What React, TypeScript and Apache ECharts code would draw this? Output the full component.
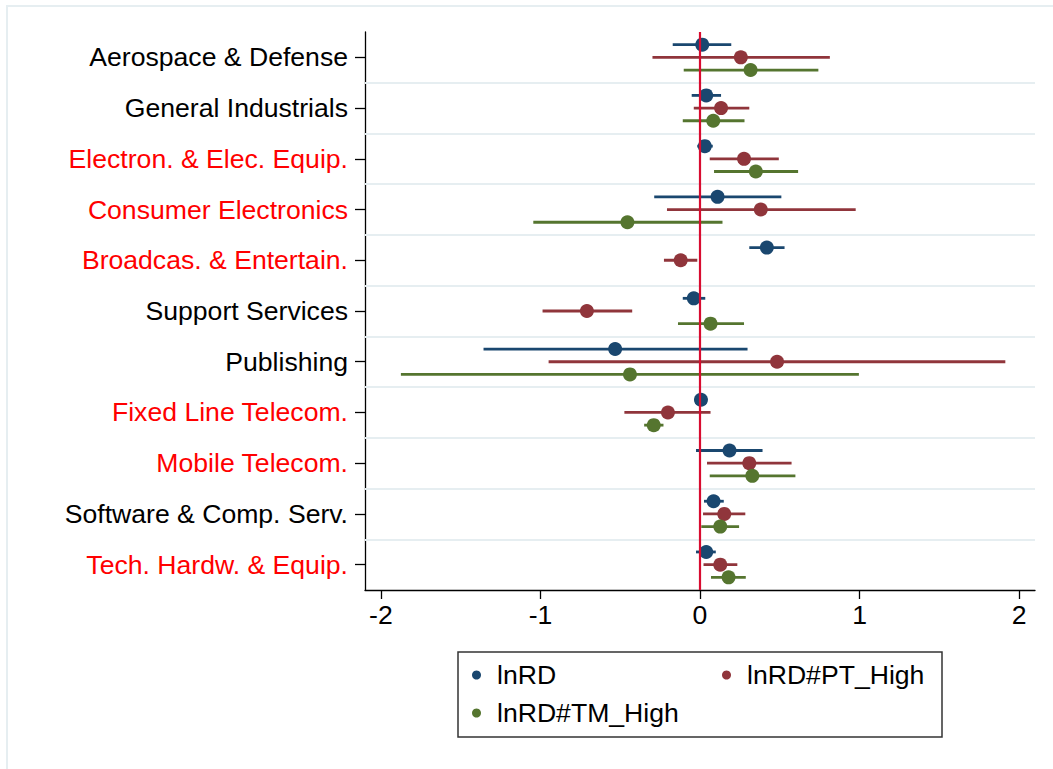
import React, { useEffect, useRef } from "react";
import * as echarts from "echarts";

const categories = [
  "Aerospace & Defense",
  "General Industrials",
  "Electron. & Elec. Equip.",
  "Consumer Electronics",
  "Broadcas. & Entertain.",
  "Support Services",
  "Publishing",
  "Fixed Line Telecom.",
  "Mobile Telecom.",
  "Software & Comp. Serv.",
  "Tech. Hardw. & Equip.",
];
const redLabel = [false, false, true, true, true, false, false, true, true, false, true];

const seriesNames = ["lnRD", "lnRD#PT_High", "lnRD#TM_High"];

const lnRDEst = [0.014, 0.039, 0.03, 0.11, 0.419, -0.039, -0.532, 0.006, 0.185, 0.085, 0.039];
const lnRDLo = [-0.171, -0.052, -0.017, -0.287, 0.309, -0.108, -1.357, -0.01, -0.025, 0.025, -0.025];
const lnRDHi = [0.196, 0.132, 0.08, 0.51, 0.53, 0.033, 0.298, 0.022, 0.392, 0.149, 0.099];

const ptEst = [0.256, 0.132, 0.276, 0.381, -0.121, -0.709, 0.483, -0.201, 0.309, 0.152, 0.127];
const ptLo = [-0.298, -0.039, 0.061, -0.207, -0.226, -0.987, -0.949, -0.474, 0.044, 0.019, 0.022];
const ptHi = [0.814, 0.309, 0.494, 0.976, -0.017, -0.425, 1.914, 0.066, 0.574, 0.284, 0.234];

const tmEst = [0.317, 0.083, 0.35, -0.455, null, 0.066, -0.439, -0.29, 0.328, 0.127, 0.179];
const tmLo = [-0.102, -0.108, 0.088, -1.045, null, -0.138, -1.875, -0.35, 0.061, 0.008, 0.069];
const tmHi = [0.742, 0.279, 0.615, 0.141, null, 0.276, 0.996, -0.229, 0.598, 0.245, 0.287];

const xTicks = [-2, -1, 0, 1, 2];

const COLORS = ["#1a476f", "#90353b", "#55752f"];
const OFFSETS = [-0.25, 0, 0.25];
const FONT = "'Liberation Sans', Arial, sans-serif";
const FS = 26.6;

export default function App() {
  const ref = useRef<HTMLDivElement>(null);

  useEffect(() => {
    document.body.style.margin = "0";
    const chart = echarts.init(ref.current!, null, { renderer: "svg" });

    const groups = [
      { est: lnRDEst, lo: lnRDLo, hi: lnRDHi },
      { est: ptEst, lo: ptLo, hi: ptHi },
      { est: tmEst, lo: tmLo, hi: tmHi },
    ];

    const ciSeries: any[] = [];
    const dotSeries: any[] = [];
    groups.forEach((g, gi) => {
      const ci: any[] = [];
      const pts: any[] = [];
      g.est.forEach((e, i) => {
        if (e === null || e === undefined) return;
        const y = i + OFFSETS[gi];
        ci.push([g.lo[i], g.hi[i], y]);
        pts.push([e, y]);
      });
      ciSeries.push({
        type: "custom",
        name: seriesNames[gi] + " CI",
        xAxisIndex: 0,
        yAxisIndex: 1,
        z: 2,
        silent: true,
        encode: { x: [0, 1], y: 2 },
        data: ci,
        renderItem: (params: any, api: any) => {
          const p1 = api.coord([api.value(0), api.value(2)]);
          const p2 = api.coord([api.value(1), api.value(2)]);
          return {
            type: "line",
            shape: { x1: p1[0], y1: p1[1], x2: p2[0], y2: p2[1] },
            style: { stroke: COLORS[gi], lineWidth: 2.8 },
          };
        },
      });
      dotSeries.push({
        type: "scatter",
        name: seriesNames[gi],
        xAxisIndex: 0,
        yAxisIndex: 1,
        z: 4,
        symbol: "circle",
        symbolSize: 14,
        itemStyle: { color: COLORS[gi], opacity: 1 },
        data: pts,
      });
    });

    const gridLines = [];
    for (let i = 0; i < categories.length - 1; i++) gridLines.push({ yAxis: i + 0.5 });

    const legendBase = {
      padding: 0,
      icon: "circle",
      itemWidth: 31,
      itemHeight: 9,
      textStyle: { fontSize: FS, color: "#000", fontFamily: FONT, lineHeight: 30 },
      selectedMode: false,
    };

    const option: any = {
      animation: false,
      backgroundColor: "#ffffff",
      textStyle: { fontFamily: FONT },
      grid: { left: 365, right: 18, top: 32, bottom: 179, containLabel: false },
      xAxis: {
        type: "value",
        min: -2.1,
        max: 2.1,
        axisLine: { show: true, onZero: false, lineStyle: { color: "#000", width: 1.3 } },
        axisTick: { show: true, length: 9, customValues: xTicks, lineStyle: { color: "#000", width: 1.3 } },
        axisLabel: {
          customValues: xTicks,
          fontSize: FS,
          color: "#000",
          margin: 11,
          fontFamily: FONT,
        },
        splitLine: { show: false },
      },
      yAxis: [
        {
          type: "category",
          data: categories,
          inverse: true,
          boundaryGap: true,
          axisLine: { show: true, onZero: false, lineStyle: { color: "#000", width: 1.3 } },
          axisTick: { show: true, alignWithLabel: true, length: 10, lineStyle: { color: "#000", width: 1.3 } },
          axisLabel: {
            fontSize: FS,
            margin: 17,
            fontFamily: FONT,
            color: (value: any, index: number) => (redLabel[index] ? "#ff0000" : "#000000"),
          },
          splitLine: { show: false },
        },
        {
          type: "value",
          min: -0.5,
          max: categories.length - 0.5,
          inverse: true,
          show: false,
          position: "left",
          axisLine: { onZero: false },
          splitLine: { show: false },
        },
      ],
      legend: [
        { ...legendBase, data: [seriesNames[0]], left: 472, top: 660 },
        { ...legendBase, data: [seriesNames[1]], left: 722, top: 660 },
        { ...legendBase, data: [seriesNames[2]], left: 472, top: 698 },
      ],
      graphic: [
        {
          type: "rect",
          z: -10,
          silent: true,
          shape: { x: 7, y: 6, width: 1200, height: 1000 },
          style: { fill: "none", stroke: "#e6eef1", lineWidth: 2 },
        },
        {
          type: "rect",
          z: -5,
          silent: true,
          shape: { x: 458, y: 652, width: 484, height: 85 },
          style: { fill: "#ffffff", stroke: "#333333", lineWidth: 1.5 },
        },
      ],
      series: [
        {
          type: "scatter",
          name: "gridlines",
          xAxisIndex: 0,
          yAxisIndex: 1,
          z: 0,
          silent: true,
          data: [],
          markLine: {
            silent: true,
            symbol: "none",
            label: { show: false },
            lineStyle: { color: "#e6eef1", width: 2, type: "solid" },
            data: gridLines,
          },
        },
        ...ciSeries,
        {
          type: "scatter",
          name: "zero",
          xAxisIndex: 0,
          yAxisIndex: 1,
          z: 3,
          silent: true,
          data: [],
          markLine: {
            silent: true,
            symbol: "none",
            label: { show: false },
            lineStyle: { color: "#d80c30", width: 2.2, type: "solid" },
            data: [{ xAxis: 0 }],
          },
        },
        ...dotSeries,
      ],
    };

    chart.setOption(option);
    return () => chart.dispose();
  }, []);

  return <div ref={ref} style={{ width: 1053, height: 769 }} />;
}
